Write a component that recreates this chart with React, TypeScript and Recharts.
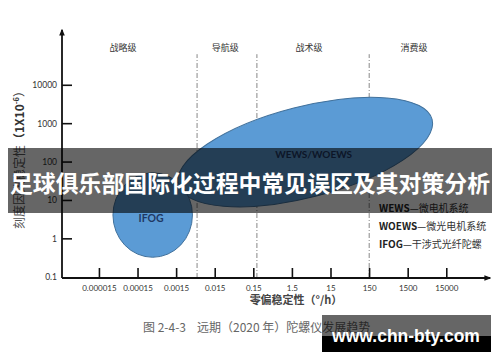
import React from "react";
import { ScatterChart, Scatter, XAxis, YAxis, ReferenceLine } from "recharts";

// log-decade tick labels, placed at index positions 0..n-1
const xTickLabels = ["0.000015", "0.00015", "0.0015", "0.015", "0.15", "1.5", "15", "150", "1500", "15000"];
const yTickLabels = ["0.1", "1", "10", "100", "1000", "10000"];

const levelNames = ["战略级", "导航级", "战术级", "消费级"];
const levelX = [0.61, 3.26, 5.43, 8.15];
const levelY = 5.97;

const boundaryX = [2.53, 4.08, 6.99];
const boundaryTop = 5.81;

// ellipse points: centre, end of first axis, end of second axis, label position
const wewsPoints = [
  { x: 5.33, y: 3.26 },
  { x: 8.62, y: 4.11 },
  { x: 5.61, y: 2.11 },
  { x: 5.55, y: 3.21 },
];
const ifogPoints = [
  { x: 1.38, y: 1.62 },
  { x: 1.38, y: 2.72 },
  { x: 2.41, y: 1.62 },
  { x: 1.34, y: 1.54 },
];

const legendRows = [
  ["WEWS", "微电机系统"],
  ["WOEWS", "微光电机系统"],
  ["IFOG", "干涉式光纤陀螺"],
];

const cjk = "'Noto Sans CJK SC', 'Noto Sans', sans-serif";
const latin = "Lato, 'Noto Sans CJK SC', sans-serif";

const levelData = levelNames.map((name, i) => ({ x: levelX[i], y: levelY, name }));

const XTick = (props: any) => {
  const { x, y, payload } = props;
  return (
    <g>
      <line x1={x} x2={x} y1={y} y2={y - 10} stroke="#111" strokeWidth={1.6} />
      <text x={x} y={y + 13} textAnchor="middle" fontSize={8} fill="#333" fontFamily={latin}>
        {xTickLabels[payload.value]}
      </text>
    </g>
  );
};

const YTick = (props: any) => {
  const { x, y, payload } = props;
  return (
    <g>
      {payload.value > 0 && (
        <line x1={x} x2={x + 10} y1={y} y2={y} stroke="#111" strokeWidth={1.6} />
      )}
      <text x={x - 5} y={y + 3} textAnchor="end" fontSize={8.5} fill="#333" fontFamily={latin}>
        {yTickLabels[payload.value]}
      </text>
    </g>
  );
};

const ellipseLine = (label: string, fontSize: number) => (p: any) => {
  const pts = p.points;
  if (!pts || pts.length < 4) return <g />;
  const [c, a, b, l] = pts;
  const rx = Math.hypot(a.x - c.x, a.y - c.y);
  const ry = Math.hypot(b.x - c.x, b.y - c.y);
  const ang = (Math.atan2(a.y - c.y, a.x - c.x) * 180) / Math.PI;
  return (
    <g>
      <ellipse
        cx={c.x}
        cy={c.y}
        rx={rx}
        ry={ry}
        transform={`rotate(${ang} ${c.x} ${c.y})`}
        fill="#5B9BD5"
        stroke="#41719C"
        strokeWidth={1}
      />
      <text
        x={l.x}
        y={l.y + fontSize * 0.36}
        textAnchor="middle"
        fontSize={fontSize}
        fontWeight="bold"
        fill="#1F3864"
        fontFamily={latin}
      >
        {label}
      </text>
    </g>
  );
};

const LevelLabel = (props: any) => (
  <text
    x={props.cx}
    y={props.cy + 3}
    textAnchor="middle"
    fontSize={9}
    fill="#333"
    fontFamily={cjk}
  >
    {props.payload.name}
  </text>
);

export default function App() {
  return (
    <div style={{ position: "absolute", left: 0, top: 0, width: 500, height: 362, background: "#fff" }}>
      <svg width={0} height={0} style={{ position: "absolute" }}>
        <defs>
          <marker
            id="axis-arrow"
            viewBox="0 0 10 10"
            refX={8}
            refY={5}
            markerWidth={7}
            markerHeight={7}
            markerUnits="userSpaceOnUse"
            orient="auto-start-reverse"
          >
            <path d="M0,1 L10,5 L0,9 z" fill="#111" />
          </marker>
        </defs>
      </svg>
      <ScatterChart width={500} height={362} margin={{ top: 30, right: 10, bottom: 54, left: 12 }}>
        <XAxis
          type="number"
          dataKey="x"
          domain={[-0.97, 10.12]}
          ticks={xTickLabels.map((_, i) => i)}
          interval={0}
          allowDataOverflow
          height={30}
          tickSize={0}
          tickMargin={0}
          tickLine={false}
          tick={<XTick />}
          axisLine={{ stroke: "#111", strokeWidth: 1.8, markerEnd: "url(#axis-arrow)" }}
        />
        <YAxis
          type="number"
          dataKey="y"
          domain={[-0.02, 6.44]}
          ticks={yTickLabels.map((_, i) => i)}
          interval={0}
          allowDataOverflow
          width={50}
          tickSize={0}
          tickMargin={0}
          tickLine={false}
          tick={<YTick />}
          axisLine={{ stroke: "#111", strokeWidth: 1.8, markerStart: "url(#axis-arrow)" }}
        />
        <Scatter
          data={wewsPoints}
          isAnimationActive={false}
          line={ellipseLine("WEWS/WOEWS", 10)}
          lineType="joint"
          shape={() => <g />}
        />
        <Scatter
          data={ifogPoints}
          isAnimationActive={false}
          line={ellipseLine("IFOG", 10.5)}
          lineType="joint"
          shape={() => <g />}
        />
        <Scatter data={levelData} isAnimationActive={false} shape={<LevelLabel />} />
        {boundaryX.map((bx) => (
          <ReferenceLine
            key={bx}
            segment={[
              { x: bx, y: -0.02 },
              { x: bx, y: boundaryTop },
            ]}
            stroke="#888"
            strokeWidth={1}
            strokeDasharray="5 2 1 2"
          />
        ))}
      </ScatterChart>

      <svg
        width={500}
        height={362}
        style={{ position: "absolute", left: 0, top: 0, pointerEvents: "none" }}
      >
        {/* axis titles */}
        <text
          transform="translate(24,157) rotate(-90)"
          textAnchor="middle"
          fontSize={12}
          fontFamily={cjk}
        >
          <tspan fill="#555">刻度因数稳定性</tspan>
          <tspan fill="#333" fontWeight="bold">（1X10</tspan>
          <tspan fill="#333" fontWeight="bold" fontSize={7.5} dy={-5}>-6</tspan>
          <tspan fill="#333" dy={5}>）</tspan>
        </text>
        <text x={296} y={304} textAnchor="middle" fontSize={11} fontWeight="bold" fill="#444" fontFamily={cjk}>
          零偏稳定性（°/h）
        </text>

        {/* legend notes */}
        {legendRows.map((row, i) => (
          <text key={row[0]} x={379} y={212 + i * 18} fontSize={10} fontFamily={cjk}>
            <tspan fontWeight="bold" fill="#222">{row[0]}</tspan>
            <tspan fill="#333">—{row[1]}</tspan>
          </text>
        ))}

        {/* caption */}
        <text x={143} y={332} fontSize={12} fill="#666" fontFamily={cjk}>
          图 2-4-3
          <tspan x={197}>远期（2020 年）陀螺仪发展趋势</tspan>
        </text>

        {/* title banner */}
        <rect x={8} y={148} width={484} height={65} fill="rgba(0,0,0,0.6)" />
        <text
          x={10}
          y={192}
          textLength={480}
          lengthAdjust="spacingAndGlyphs"
          fontSize={23}
          fontWeight="bold"
          fill="#fff"
          fontFamily={cjk}
        >
          足球俱乐部国际化过程中常见误区及其对策分析
        </text>

        {/* watermark */}
        <rect x={322} y={315} width={169} height={21} fill="rgba(0,0,0,0.6)" />
        <rect x={322} y={336} width={169} height={16} fill="#000" />
        <text
          x={406}
          y={342}
          textAnchor="middle"
          fontSize={17.5}
          fontWeight="bold"
          fill="#fff"
          fontFamily="'Liberation Sans', Arial, sans-serif"
        >
          www.chn-bty.com
        </text>
      </svg>
    </div>
  );
}
